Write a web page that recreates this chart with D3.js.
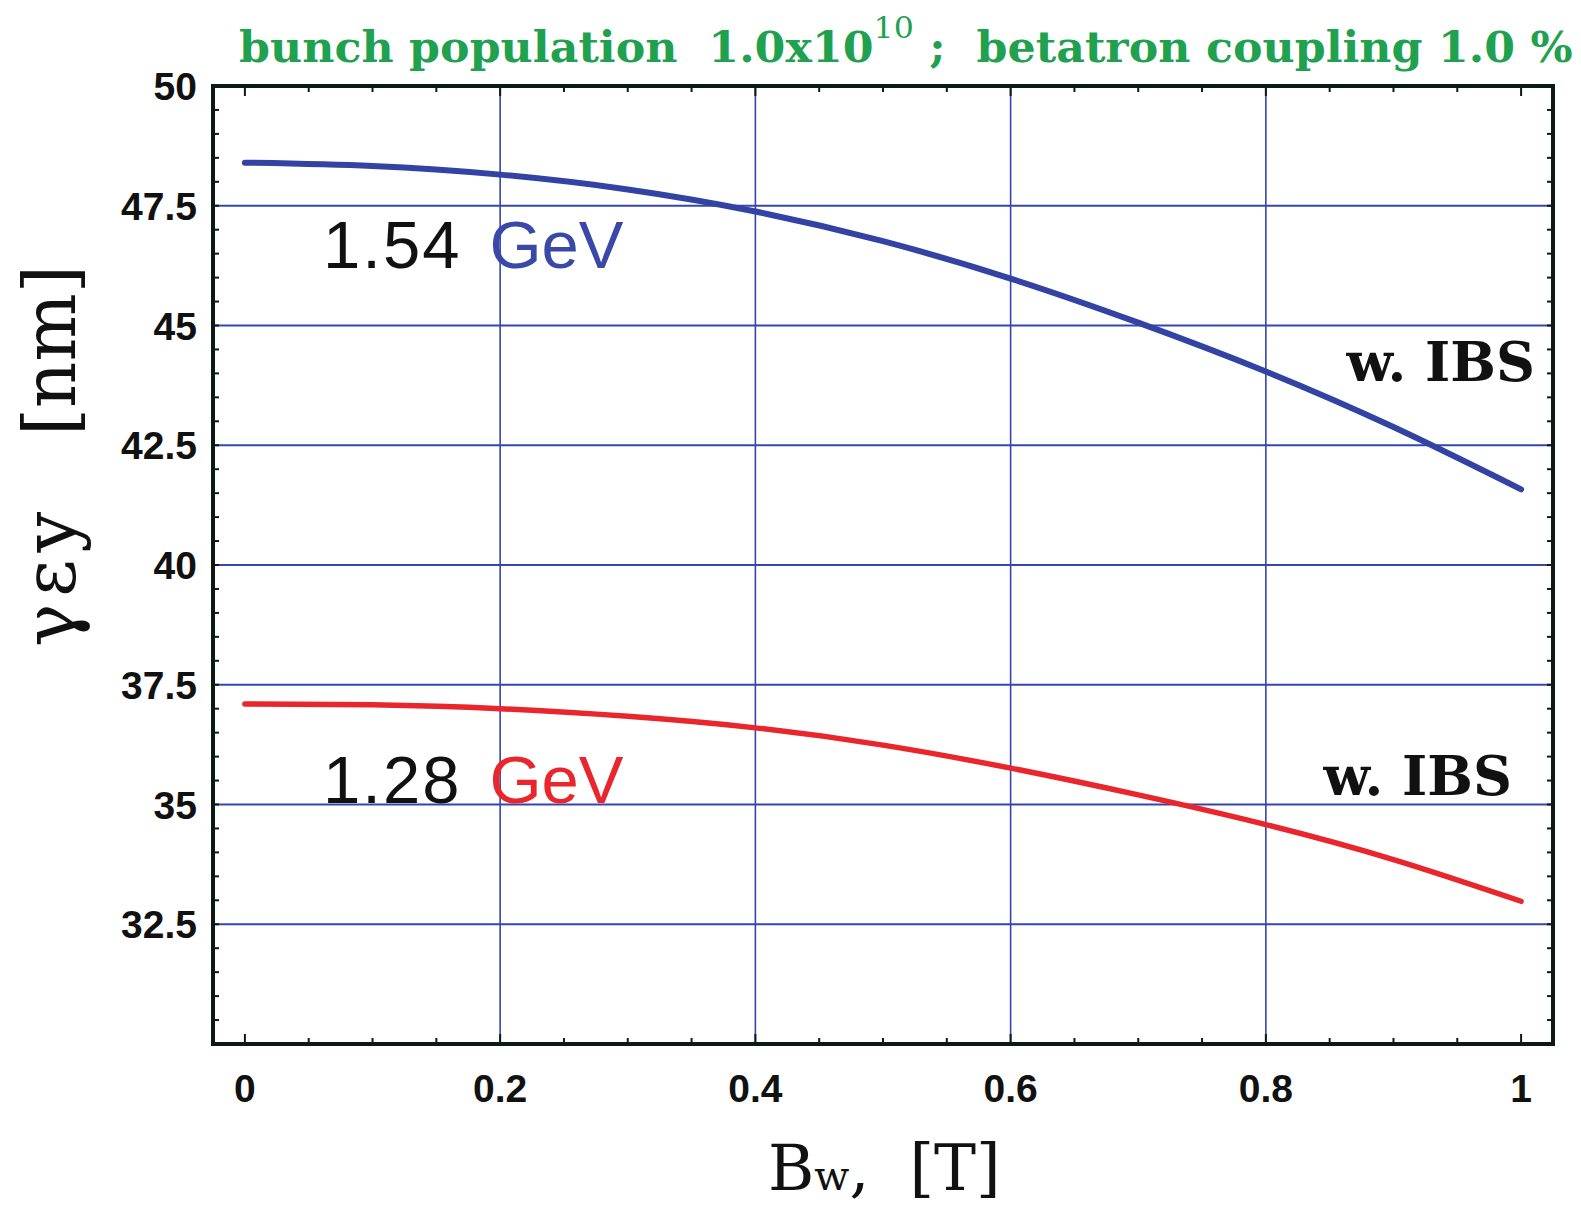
<!DOCTYPE html>
<html>
<head>
<meta charset="utf-8">
<script src="https://cdn.jsdelivr.net/npm/d3@7"></script>
<style>
	body { margin: 0; background: #fff; }
	svg { display: block; }
	.tick-label { font-family: "Liberation Sans", Arial, sans-serif; font-weight: bold; font-size: 39px; fill: #111; }
	.serif { font-family: "DejaVu Serif", "Liberation Serif", serif; }
</style>
</head>
<body>
<svg id="vis" width="1581" height="1207"></svg>
<script>
// field values along the x axis (Bw in T)
const bw = [0, 0.1, 0.2, 0.3, 0.4, 0.5, 0.6, 0.7, 0.8, 0.9, 1.0];
// vertical emittance (nm)
const emit154 = [48.40, 48.33, 48.15, 47.84, 47.38, 46.76, 45.98, 45.06, 44.04, 42.88, 41.58];
const emit128 = [37.10, 37.08, 37.00, 36.84, 36.60, 36.24, 35.76, 35.20, 34.58, 33.85, 32.98];

const xTicks = [0, 0.2, 0.4, 0.6, 0.8, 1];
const xTickLabels = ["0", "0.2", "0.4", "0.6", "0.8", "1"];
const yTicks = [32.5, 35, 37.5, 40, 42.5, 45, 47.5, 50];
const yTickLabels = ["32.5", "35", "37.5", "40", "42.5", "45", "47.5", "50"];

const svg = d3.select("svg#vis");

const frame = {left: 213, right: 1553, top: 86, bottom: 1044};

const x = d3.scaleLinear().domain([-0.025, 1.025]).range([frame.left, frame.right]);
const y = d3.scaleLinear().domain([30, 50]).range([frame.bottom, frame.top]);

const gridColor = "#3446b0";

// grid lines
svg.append("g").selectAll("line.vgrid")
	.data(xTicks.filter(d => d > 0 && d < 1))
	.enter().append("line")
	.attr("x1", d => x(d)).attr("x2", d => x(d))
	.attr("y1", frame.top).attr("y2", frame.bottom)
	.attr("stroke", gridColor).attr("stroke-width", 1.6);

svg.append("g").selectAll("line.hgrid")
	.data(yTicks.filter(d => d < 50))
	.enter().append("line")
	.attr("x1", frame.left).attr("x2", frame.right)
	.attr("y1", d => y(d)).attr("y2", d => y(d))
	.attr("stroke", gridColor).attr("stroke-width", 2);

// inward ticks on all four sides
const xMinor = d3.range(0, 1.0001, 0.05);
const yMinor = d3.range(30, 50.0001, 0.5);
const ticks = svg.append("g").attr("stroke", "#0b1a12").attr("stroke-width", 2);

xMinor.forEach(function(v) {
	const major = xTicks.some(t => Math.abs(t - v) < 1e-6);
	const len = major ? 10 : 6;
	ticks.append("line").attr("x1", x(v)).attr("x2", x(v)).attr("y1", frame.bottom).attr("y2", frame.bottom - len);
	ticks.append("line").attr("x1", x(v)).attr("x2", x(v)).attr("y1", frame.top).attr("y2", frame.top + len);
});
yMinor.forEach(function(v) {
	ticks.append("line").attr("y1", y(v)).attr("y2", y(v)).attr("x1", frame.left).attr("x2", frame.left + 6);
	ticks.append("line").attr("y1", y(v)).attr("y2", y(v)).attr("x1", frame.right).attr("x2", frame.right - 6);
});

// curves
const line = d3.line()
	.x((d, i) => x(bw[i]))
	.y(d => y(d))
	.curve(d3.curveNatural);

svg.append("path").datum(emit154)
	.attr("d", line).attr("fill", "none")
	.attr("stroke", "#3343a3").attr("stroke-width", 6).attr("stroke-linecap", "round");

svg.append("path").datum(emit128)
	.attr("d", line).attr("fill", "none")
	.attr("stroke", "#e8262b").attr("stroke-width", 5.5).attr("stroke-linecap", "round");

// frame
svg.append("rect")
	.attr("x", frame.left).attr("y", frame.top)
	.attr("width", frame.right - frame.left).attr("height", frame.bottom - frame.top)
	.attr("fill", "none").attr("stroke", "#0b1a12").attr("stroke-width", 4);

// tick labels
svg.append("g").selectAll("text")
	.data(xTicks)
	.enter().append("text")
	.attr("class", "tick-label")
	.attr("x", d => x(d)).attr("y", 1102)
	.attr("text-anchor", "middle")
	.text((d, i) => xTickLabels[i]);

svg.append("g").selectAll("text")
	.data(yTicks)
	.enter().append("text")
	.attr("class", "tick-label")
	.attr("x", 197).attr("y", d => y(d) + 14)
	.attr("text-anchor", "end")
	.text((d, i) => yTickLabels[i]);

// curve labels
function energyLabel(yy, energy, color) {
	const t = svg.append("text")
		.attr("x", 323).attr("y", yy)
		.style("font-family", "'Liberation Sans', Arial, sans-serif")
		.style("font-size", "67px");
	t.append("tspan").attr("fill", "#111").style("letter-spacing", "2px").text(energy);
	t.append("tspan").attr("fill", color).attr("dx", 28).text("GeV");
}
energyLabel(268, "1.54", "#3a48a8");
energyLabel(803, "1.28", "#e8262b");

function ibsLabel(xx, yy) {
	svg.append("text")
		.attr("class", "serif")
		.attr("x", xx).attr("y", yy)
		.attr("text-anchor", "end")
		.style("font-size", "54px").style("font-weight", "bold")
		.attr("fill", "#111")
		.text("w. IBS");
}
ibsLabel(1535, 381);
ibsLabel(1512, 795);

// title, stretched to the width it has in the picture
const title = svg.append("text")
	.attr("class", "serif")
	.attr("x", 239).attr("y", 62)
	.style("font-size", "42px").style("font-weight", "bold")
	.attr("fill", "#1fa150");
title.append("tspan").text("bunch population\u00a0\u00a01.0x10");
title.append("tspan").attr("dy", -24).style("font-size", "30px").style("font-weight", "normal").text("10");
title.append("tspan").attr("dy", 24).text("\u00a0;\u00a0\u00a0betatron coupling 1.0 %");
const tw = title.node().getBBox().width;
title.attr("transform", "translate(239,0) scale(" + (1334 / tw) + ",1) translate(-239,0)");

// x axis label
const xl = svg.append("text")
	.attr("class", "serif")
	.attr("x", 768).attr("y", 1190)
	.style("font-size", "63px")
	.attr("fill", "#111");
xl.append("tspan").text("B");
xl.append("tspan").style("font-size", "41px").text("w");
xl.append("tspan").text(",\u00a0\u00a0[T]");

// y axis label
const yl = svg.append("text")
	.attr("class", "serif")
	.attr("transform", "translate(75,456) rotate(-90)")
	.attr("text-anchor", "middle")
	.style("font-size", "72px")
	.attr("fill", "#111");
yl.append("tspan").style("letter-spacing", "7px").text("\u03b3\u03b5y");
yl.append("tspan").text("\u00a0\u00a0\u00a0[nm]");
</script>
</body>
</html>
